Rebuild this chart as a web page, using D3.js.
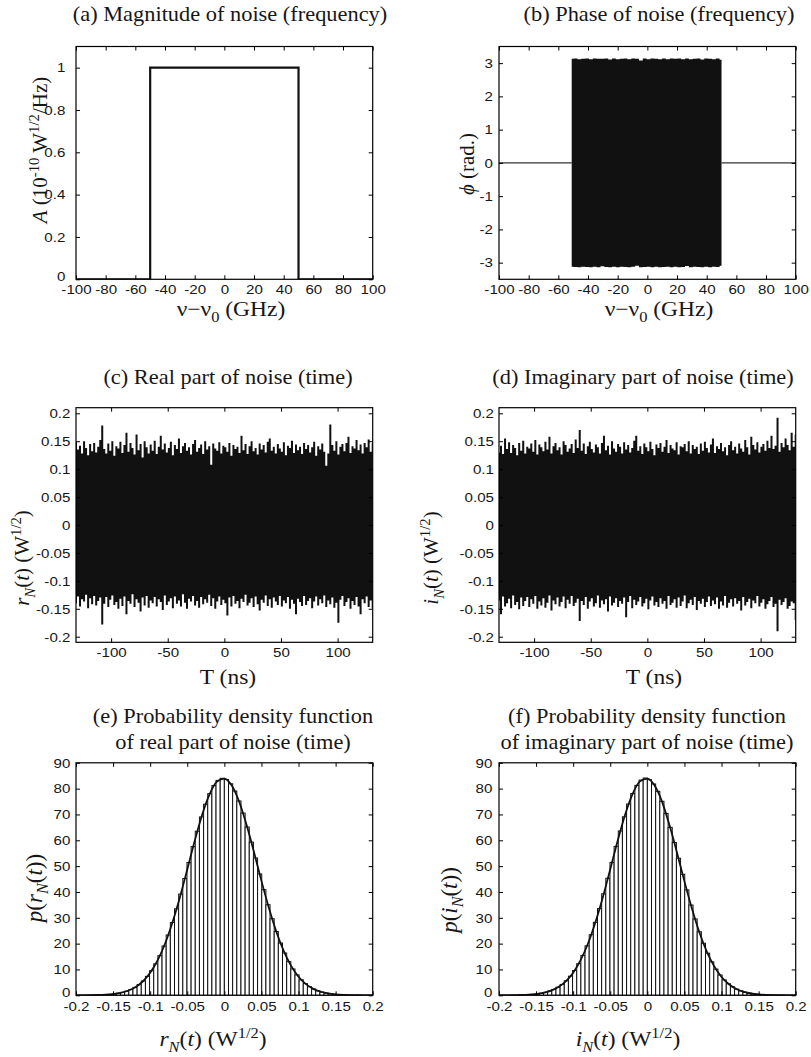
<!DOCTYPE html>
<html><head><meta charset="utf-8">
<script src="https://cdn.jsdelivr.net/npm/d3@7"></script>
<style>
body{margin:0;background:#fff;}
svg{display:block;}
.tick text{font-family:"Liberation Sans",Arial,sans-serif;font-size:13.5px;fill:#161616;}
.serif{font-family:"Liberation Serif","Times New Roman",serif;fill:#161616;}
</style></head><body>
<svg id="chart" width="811" height="1057"></svg>
<script>
// ---------------- DATA ----------------
// (a) magnitude spectrum (10^-10 W^1/2/Hz) vs frequency offset (GHz)
const magFreq = [-100, -50, -50, 50, 50, 100];
const magValue = [0, 0, 1, 1, 0, 0];

// (b) phase: flat zero outside the band, band envelope inside (rad.)
const phaseZeroLeft = [-100, -51];
const phaseZeroRight = [50, 100];
const phaseBand = [-51, 50];
const phaseUpper = [3.13,3.14,3.12,3.13,3.14,3.12,3.14,3.13,3.13,3.14,3.11,3.14,3.12,3.13,3.14,3.12,3.14,3.13,3.08,3.14,3.12,3.14,3.13,3.12,3.14,3.12,3.14,3.13,3.14,3.12,3.14,3.12,3.13,3.14,3.11,3.14,3.13,3.12,3.14,3.10];
const phaseLower = [-3.12,-3.13,-3.14,-3.12,-3.13,-3.14,-3.12,-3.14,-3.11,-3.13,-3.14,-3.12,-3.14,-3.12,-3.13,-3.14,-3.12,-3.09,-3.14,-3.13,-3.12,-3.14,-3.12,-3.14,-3.13,-3.12,-3.14,-3.12,-3.14,-3.13,-3.10,-3.14,-3.12,-3.13,-3.14,-3.12,-3.14,-3.12,-3.13,-3.09];

// (c),(d) time span of the noise records (ns)
const timeSpan = [-131, 131];
// (c) real part envelope (W^1/2)
const realUpper = [
.148,.135,.142,.128,.150,.138,.125,.145,.132,.147,.130,.140,.152,.178,.136,.128,.146,.133,.150,.124,
.141,.137,.149,.129,.143,.165,.131,.147,.138,.126,.162,.134,.145,.121,.150,.139,.128,.144,.133,.151,
.127,.140,.160,.135,.146,.130,.138,.149,.125,.143,.136,.155,.129,.141,.147,.133,.139,.126,.145,.152,
.131,.138,.144,.127,.150,.135,.141,.108,.146,.137,.133,.148,.128,.142,.139,.131,.147,.124,.143,.136,
.140,.129,.160,.134,.145,.127,.141,.150,.132,.138,.126,.146,.135,.143,.130,.149,.155,.133,.140,.128,
.145,.137,.131,.148,.125,.142,.138,.151,.129,.144,.134,.140,.127,.147,.136,.143,.130,.139,.149,.124,
.141,.135,.146,.131,.106,.128,.180,.143,.133,.150,.126,.140,.145,.132,.147,.158,.129,.141,.137,.152,
.134,.144,.128,.147,.139,.153,.131,.146];
const realLower = [
-.140,-.128,-.146,-.133,-.137,-.125,-.149,-.131,-.142,-.127,-.144,-.136,-.130,-.178,-.141,-.129,-.147,-.134,-.126,-.143,
-.138,-.150,-.132,-.145,-.128,-.160,-.136,-.141,-.124,-.147,-.133,-.139,-.155,-.130,-.144,-.127,-.148,-.135,-.140,-.129,
-.146,-.133,-.138,-.152,-.126,-.143,-.137,-.131,-.149,-.128,-.141,-.135,-.146,-.124,-.139,-.150,-.132,-.137,-.127,-.144,
-.136,-.148,-.129,-.142,-.133,-.139,-.125,-.145,-.131,-.150,-.137,-.128,-.143,-.134,-.140,-.162,-.130,-.146,-.127,-.141,
-.136,-.149,-.132,-.138,-.125,-.144,-.139,-.131,-.147,-.128,-.142,-.153,-.134,-.139,-.126,-.145,-.133,-.148,-.130,-.137,
-.143,-.127,-.146,-.135,-.140,-.129,-.150,-.134,-.141,-.160,-.132,-.138,-.145,-.127,-.143,-.136,-.131,-.149,-.137,-.128,
-.144,-.133,-.140,-.126,-.147,-.135,-.142,-.130,-.148,-.139,-.175,-.134,-.127,-.145,-.138,-.131,-.150,-.136,-.143,-.129,
-.146,-.160,-.133,-.140,-.128,-.147,-.135,-.149];
// (d) imaginary part envelope (W^1/2)
const imagUpper = [
.130,.142,.127,.155,.136,.148,.129,.143,.138,.125,.147,.133,.151,.128,.140,.137,.146,.131,.152,.126,
.144,.139,.132,.149,.135,.158,.128,.141,.147,.134,.139,.126,.150,.143,.131,.137,.145,.129,.153,.138,
.170,.133,.146,.127,.141,.149,.136,.130,.144,.139,.128,.147,.160,.134,.142,.126,.150,.137,.131,.145,
.140,.128,.148,.135,.143,.130,.138,.151,.160,.133,.141,.127,.146,.139,.132,.149,.136,.125,.144,.138,
.147,.131,.140,.152,.129,.143,.137,.134,.148,.126,.141,.139,.145,.132,.150,.128,.143,.136,.140,.127,
.146,.133,.149,.138,.130,.144,.155,.129,.141,.136,.147,.132,.139,.125,.143,.150,.134,.140,.128,.146,
.137,.131,.152,.139,.126,.158,.143,.135,.148,.130,.140,.145,.133,.151,.138,.160,.136,.142,.192,.131,
.147,.139,.155,.143,.134,.165,.140,.162];
const imagLower = [
-.135,-.160,-.128,-.146,-.140,-.132,-.149,-.126,-.143,-.138,-.151,-.130,-.145,-.136,-.129,-.147,-.133,-.141,-.127,-.150,
-.137,-.144,-.131,-.148,-.139,-.126,-.153,-.135,-.142,-.130,-.146,-.138,-.128,-.149,-.134,-.141,-.127,-.145,-.139,-.132,
-.172,-.136,-.143,-.129,-.150,-.137,-.131,-.146,-.140,-.126,-.148,-.135,-.142,-.133,-.155,-.128,-.144,-.139,-.131,-.147,
-.136,-.141,-.130,-.165,-.138,-.127,-.149,-.134,-.143,-.137,-.129,-.146,-.140,-.132,-.151,-.135,-.128,-.144,-.138,-.147,
-.131,-.141,-.136,-.150,-.127,-.143,-.139,-.133,-.148,-.130,-.145,-.137,-.126,-.149,-.140,-.134,-.143,-.129,-.152,-.136,
-.141,-.132,-.147,-.138,-.128,-.145,-.135,-.142,-.130,-.150,-.137,-.144,-.127,-.148,-.139,-.133,-.146,-.131,-.141,-.136,
-.153,-.129,-.144,-.138,-.132,-.149,-.135,-.140,-.127,-.146,-.139,-.133,-.150,-.142,-.136,-.129,-.147,-.141,-.190,-.134,
-.143,-.138,-.131,-.150,-.145,-.137,-.140,-.170];

// (e),(f) histogram bins (W^1/2)
const binWidth = 0.0056;
const binCenters = [-0.182,-0.1764,-0.1708,-0.1652,-0.1596,-0.154,-0.1484,-0.1428,-0.1372,-0.1316,-0.126,-0.1204,-0.1148,-0.1092,-0.1036,-0.098,-0.0924,-0.0868,-0.0812,-0.0756,-0.07,-0.0644,-0.0588,-0.0532,-0.0476,-0.042,-0.0364,-0.0308,-0.0252,-0.0196,-0.014,-0.0084,-0.0028,0.0028,0.0084,0.014,0.0196,0.0252,0.0308,0.0364,0.042,0.0476,0.0532,0.0588,0.0644,0.07,0.0756,0.0812,0.0868,0.0924,0.098,0.1036,0.1092,0.1148,0.1204,0.126,0.1316,0.1372,0.1428,0.1484,0.154,0.1596,0.1652,0.1708,0.1764,0.182];
const realHist = [0.04,0.06,0.10,0.16,0.24,0.36,0.53,0.78,1.12,1.59,2.22,3.06,4.15,5.56,7.33,9.52,12.18,15.36,19.08,23.35,28.17,33.47,39.19,45.22,51.39,57.56,63.51,69.05,73.97,78.07,81.19,83.19,84.0,83.54,81.88,79.07,75.23,70.53,65.14,59.28,53.15,46.97,40.90,35.08,29.64,24.68,20.24,16.36,13.02,10.21,7.90,6.02,4.52,3.34,2.44,1.75,1.24,0.86,0.59,0.40,0.27,0.18,0.11,0.07,0.04,0.03];
const imagHist = [0.03,0.05,0.11,0.17,0.25,0.38,0.55,0.80,1.15,1.62,2.25,3.10,4.20,5.62,7.40,9.60,12.25,15.45,19.15,23.45,28.25,33.55,39.30,45.30,51.45,57.65,63.60,69.10,74.05,78.10,81.25,83.30,84.10,83.45,81.80,78.95,75.10,70.40,65.00,59.15,53.05,46.85,40.80,34.95,29.55,24.60,20.15,16.30,12.95,10.15,7.85,5.98,4.48,3.30,2.40,1.72,1.22,0.85,0.58,0.39,0.26,0.17,0.11,0.07,0.04,0.02];
// fitted density curves
const pdfX = [-0.2,-0.19,-0.18,-0.17,-0.16,-0.15,-0.14,-0.13,-0.12,-0.11,-0.1,-0.09,-0.08,-0.07,-0.06,-0.05,-0.04,-0.03,-0.02,-0.01,0,0.01,0.02,0.03,0.04,0.05,0.06,0.07,0.08,0.09,0.1,0.11,0.12,0.13,0.14,0.15,0.16,0.17,0.18,0.19,0.2];
const realPdf = [0.01,0.02,0.05,0.11,0.23,0.47,0.93,1.75,3.13,5.34,8.69,13.5,19.95,28.2,37.9,48.7,59.7,69.8,77.8,82.7,83.9,81.2,74.9,65.9,55.4,44.3,33.9,24.7,17.2,11.4,7.19,4.34,2.49,1.37,0.72,0.36,0.17,0.08,0.04,0.02,0.01];
const imagPdf = [0.01,0.02,0.05,0.12,0.24,0.49,0.95,1.78,3.17,5.40,8.75,13.6,20.05,28.3,38.0,48.8,59.8,69.9,77.9,82.8,83.9,81.1,74.8,65.7,55.2,44.1,33.7,24.5,17.0,11.3,7.10,4.28,2.45,1.34,0.70,0.35,0.16,0.08,0.04,0.02,0.01];

// tick values
const ticksFreq = [-100,-80,-60,-40,-20,0,20,40,60,80,100];
const ticksMag = [0,0.2,0.4,0.6,0.8,1];
const ticksPhase = [-3,-2,-1,0,1,2,3];
const ticksTime = [-100,-50,0,50,100];
const ticksAmp = [-0.2,-0.15,-0.1,-0.05,0,0.05,0.1,0.15,0.2];
const ticksPdf = [0,10,20,30,40,50,60,70,80,90];

// ---------------- DRAWING ----------------
const svg = d3.select("#chart");
const fmt = d => String(+(+d).toFixed(4));
const SX = 1.12; // horizontal stretch of the original figure's lettering
let clipN = 0;

function rich(textSel, parts, fs) {
  let cur = 0;
  parts.forEach(p => {
    const target = p.sup ? -0.38 * fs : p.sub ? 0.28 * fs : 0;
    const ts = textSel.append("tspan").text(p.t).attr("dy", (target - cur).toFixed(2));
    cur = target;
    if (p.sup || p.sub) ts.attr("font-size", (fs * 0.7).toFixed(1));
    if (p.it) ts.attr("font-style", "italic");
  });
}

function panel(o) {
  const w = o.x1 - o.x0, h = o.y1 - o.y0;
  const g = svg.append("g").attr("transform", `translate(${o.x0},${o.y0})`);
  const x = d3.scaleLinear().domain(o.xDomain).range([0, w]);
  const y = d3.scaleLinear().domain(o.yDomain).range([h, 0]);
  const id = "clip" + (clipN++);
  g.append("clipPath").attr("id", id).append("rect").attr("width", w).attr("height", h);
  const plot = g.append("g").attr("clip-path", `url(#${id})`);
  o.draw(plot, x, y);

  g.append("g").attr("transform", `translate(0,${h})`)
    .call(d3.axisBottom(x).tickValues(o.xTicks).tickSizeInner(-4).tickSizeOuter(0).tickPadding(o.xPad || 5).tickFormat(fmt));
  g.append("g")
    .call(d3.axisTop(x).tickValues(o.xTicks).tickSizeInner(-4).tickSizeOuter(0).tickFormat(""));
  const left = g.append("g")
    .call(d3.axisLeft(y).tickValues(o.yTicks).tickSizeInner(-4).tickSizeOuter(0).tickPadding(o.yPad).tickFormat(fmt));
  g.append("g").attr("transform", `translate(${w},0)`)
    .call(d3.axisRight(y).tickValues(o.yTicks).tickSizeInner(-4).tickSizeOuter(0).tickFormat(""));
  g.selectAll(".domain").remove();
  g.selectAll(".tick line").attr("stroke", "#000");
  g.selectAll(".tick text").attr("transform", `scale(${SX},1)`);
  if (o.zeroLift) {
    left.selectAll(".tick").filter(d => d === 0).select("text").attr("y", -o.zeroLift);
  }
  g.append("rect").attr("width", w).attr("height", h)
    .attr("fill", "none").attr("stroke", "#000").attr("stroke-width", 1.2);

  // title
  o.title.forEach((line, i) => {
    svg.append("text").attr("class", "serif")
      .attr("transform", `translate(${o.titleX},${o.titleY + i * 26}) scale(${SX},1)`)
      .attr("text-anchor", "middle").attr("font-size", 20).text(line);
  });
  // x label
  const xfs = o.xlFs || 21;
  const xl = svg.append("text").attr("class", "serif")
    .attr("transform", `translate(${o.xlX},${o.xlY}) scale(${SX},1)`)
    .attr("text-anchor", "middle").attr("font-size", xfs);
  rich(xl, o.xLabel, xfs);
  // y label
  const yfs = o.ylFs || 21;
  const yl = svg.append("text").attr("class", "serif")
    .attr("transform", `translate(${o.ylX + yfs * 0.33},${o.ylY}) rotate(-90)`)
    .attr("text-anchor", "middle").attr("font-size", yfs);
  rich(yl, o.yLabel, yfs);
}

function gridOf(span, n) { // evenly spaced sample positions across a span
  return d3.range(n).map(i => span[0] + i * (span[1] - span[0]) / (n - 1));
}

function bandDraw(upper, lower, span) {
  return (p, x, y) => {
    const pos = gridOf(span, upper.length);
    const pts = pos.map((t, i) => ({ t, hi: upper[i], lo: lower[i] }));
    p.append("path").datum(pts)
      .attr("d", d3.area().x(d => x(d.t)).y0(d => y(d.lo)).y1(d => y(d.hi)).curve(d3.curveStep))
      .attr("fill", "#111").attr("stroke", "none");
  };
}

function histDraw(hist, pdf) {
  return (p, x, y) => {
    p.selectAll("rect.bar").data(binCenters.map((c, i) => ({ c, v: hist[i] })))
      .join("rect").attr("class", "bar")
      .attr("x", d => x(d.c - binWidth / 2)).attr("width", d => x(d.c + binWidth / 2) - x(d.c - binWidth / 2))
      .attr("y", d => y(d.v)).attr("height", d => y(0) - y(d.v))
      .attr("fill", "#fff").attr("stroke", "#111").attr("stroke-width", 1);
    p.append("path").datum(pdfX.map((v, i) => [v, pdf[i]]))
      .attr("d", d3.line().x(d => x(d[0])).y(d => y(d[1])).curve(d3.curveMonotoneX))
      .attr("fill", "none").attr("stroke", "#111").attr("stroke-width", 1.8);
  };
}

const L = { x0: 76, x1: 372.7 }, R = { x0: 499, x1: 795.7 };
const row1 = { y0: 46.5, y1: 279.3 }, row2 = { y0: 407.7, y1: 642.3 }, row3 = { y0: 762.8, y1: 995.3 };

const nuLabel = [{ t: "\u03bd\u2212\u03bd" }, { t: "0", sub: true }, { t: " (GHz)" }];

// (a)
panel(Object.assign({}, L, row1, {
  xDomain: [-100, 100], yDomain: [0, 1.1], xTicks: ticksFreq, yTicks: ticksMag, yPad: 9.5, zeroLift: 3,
  title: ["(a) Magnitude of noise (frequency)"], titleX: 230, titleY: 21,
  xLabel: nuLabel, xlX: 231, xlY: 316,
  yLabel: [{ t: "A", it: true }, { t: " (10" }, { t: "-10", sup: true }, { t: " W" }, { t: "1/2", sup: true }, { t: "/Hz)" }],
  ylX: 40, ylY: 150,
  draw: (p, x, y) => {
    p.append("path").datum(magFreq.map((f, i) => [f, magValue[i]]))
      .attr("d", d3.line().x(d => x(d[0])).y(d => y(d[1])))
      .attr("fill", "none").attr("stroke", "#111").attr("stroke-width", 2.2);
  }
}));

// (b)
panel(Object.assign({}, R, row1, {
  xDomain: [-100, 100], yDomain: [-3.5, 3.5], xTicks: ticksFreq, yTicks: ticksPhase, yPad: 5.5,
  title: ["(b) Phase of noise (frequency)"], titleX: 659, titleY: 21,
  xLabel: nuLabel, xlX: 659, xlY: 316,
  yLabel: [{ t: "\u03d5", it: true }, { t: " (rad.)" }],
  ylX: 467, ylY: 164,
  draw: (p, x, y) => {
    [phaseZeroLeft, phaseZeroRight].forEach(seg => {
      p.append("path").datum(seg.map(f => [f, 0]))
        .attr("d", d3.line().x(d => x(d[0])).y(d => y(d[1])))
        .attr("stroke", "#333").attr("stroke-width", 1.2).attr("fill", "none");
    });
    bandDraw(phaseUpper, phaseLower, phaseBand)(p, x, y);
  }
}));

// (c)
panel(Object.assign({}, L, row2, {
  xDomain: [-131, 131], yDomain: [-0.21, 0.21], xTicks: ticksTime, yTicks: ticksAmp, yPad: 5,
  title: ["(c) Real part of noise (time)"], titleX: 228, titleY: 384,
  xLabel: [{ t: "T (ns)" }], xlX: 228, xlY: 684,
  yLabel: [{ t: "r", it: true }, { t: "N", it: true, sub: true }, { t: "(" }, { t: "t", it: true }, { t: ") (W" }, { t: "1/2", sup: true }, { t: ")" }],
  ylX: 22, ylY: 558,
  draw: bandDraw(realUpper, realLower, timeSpan)
}));

// (d)
panel(Object.assign({}, R, row2, {
  xDomain: [-131, 131], yDomain: [-0.21, 0.21], xTicks: ticksTime, yTicks: ticksAmp, yPad: 4.5,
  title: ["(d) Imaginary part of noise (time)"], titleX: 643, titleY: 384,
  xLabel: [{ t: "T (ns)" }], xlX: 654, xlY: 684,
  yLabel: [{ t: "i", it: true }, { t: "N", it: true, sub: true }, { t: "(" }, { t: "t", it: true }, { t: ") (W" }, { t: "1/2", sup: true }, { t: ")" }],
  ylX: 431, ylY: 558,
  draw: bandDraw(imagUpper, imagLower, timeSpan)
}));

// (e)
panel(Object.assign({}, L, row3, {
  xDomain: [-0.2, 0.2], yDomain: [0, 90], xTicks: ticksAmp, yTicks: ticksPdf, yPad: 5, zeroLift: 3, xPad: 6,
  title: ["(e) Probability density function", "of real part of noise (time)"], titleX: 233, titleY: 723,
  xLabel: [{ t: "r", it: true }, { t: "N", it: true, sub: true }, { t: "(" }, { t: "t", it: true }, { t: ") (W" }, { t: "1/2", sup: true }, { t: ")" }],
  xlX: 213, xlY: 1046,
  yLabel: [{ t: "p", it: true }, { t: "(" }, { t: "r", it: true }, { t: "N", it: true, sub: true }, { t: "(" }, { t: "t", it: true }, { t: "))" }],
  ylX: 34, ylY: 888, ylFs: 23,
  draw: histDraw(realHist, realPdf)
}));

// (f)
panel(Object.assign({}, R, row3, {
  xDomain: [-0.2, 0.2], yDomain: [0, 90], xTicks: ticksAmp, yTicks: ticksPdf, yPad: 6, zeroLift: 3, xPad: 6,
  title: ["(f) Probability density function", "of imaginary part of noise (time)"], titleX: 647, titleY: 723,
  xLabel: [{ t: "i", it: true }, { t: "N", it: true, sub: true }, { t: "(" }, { t: "t", it: true }, { t: ") (W" }, { t: "1/2", sup: true }, { t: ")" }],
  xlX: 628, xlY: 1046,
  yLabel: [{ t: "p", it: true }, { t: "(" }, { t: "i", it: true }, { t: "N", it: true, sub: true }, { t: "(" }, { t: "t", it: true }, { t: "))" }],
  ylX: 449, ylY: 900, ylFs: 23,
  draw: histDraw(imagHist, imagPdf)
}));
</script>
</body></html>
